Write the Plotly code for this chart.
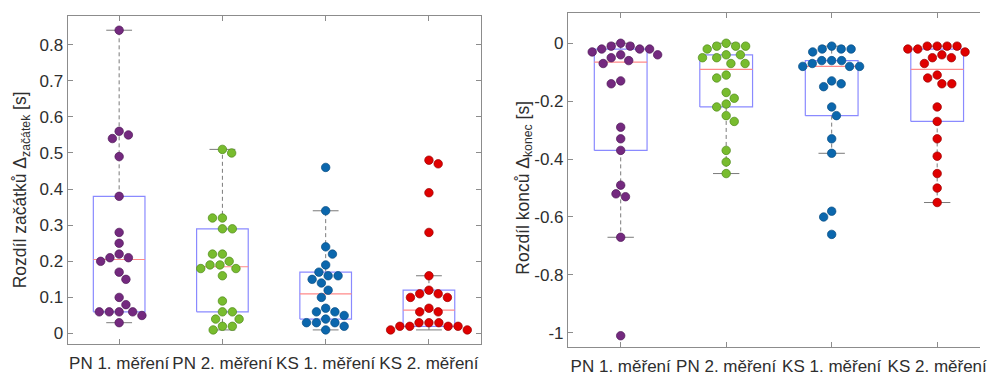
import math
import numpy as np
import plotly.graph_objects as go

# ---------------- data ----------------
categories = ["PN 1. měření", "PN 2. měření", "KS 1. měření", "KS 2. měření"]

start_PN1 = [0.84, 0.55, 0.56, 0.54, 0.49, 0.38, 0.28, 0.25, 0.21, 0.22, 0.21,
             0.20, 0.17, 0.15, 0.10, 0.08, 0.06, 0.06, 0.06, 0.06, 0.05, 0.03]
start_PN2 = [0.50, 0.51, 0.32, 0.32, 0.29, 0.29, 0.22, 0.22, 0.20, 0.19, 0.19,
             0.18, 0.18, 0.16, 0.09, 0.06, 0.06, 0.04, 0.04, 0.02, 0.02, 0.01]
start_KS1 = [0.46, 0.34, 0.24, 0.22, 0.19, 0.17, 0.16, 0.16, 0.14, 0.15, 0.12,
             0.10, 0.07, 0.06, 0.06, 0.05, 0.04, 0.03, 0.03, 0.03, 0.01, 0.02]
start_KS2 = [0.48, 0.47, 0.39, 0.28, 0.16, 0.12, 0.11, 0.11, 0.10, 0.10, 0.07,
             0.06, 0.06, 0.03, 0.03, 0.03, 0.02, 0.02, 0.02, 0.02, 0.01, 0.01]

end_PN1 = [0.00, -0.01, -0.01, -0.02, -0.02, -0.02, -0.03, -0.04, -0.04, -0.05, -0.06,
           -0.07, -0.13, -0.14, -0.29, -0.33, -0.37, -0.49, -0.52, -0.53, -0.67, -1.01]
end_PN2 = [0.00, -0.01, -0.01, -0.01, -0.02, -0.04, -0.04, -0.05, -0.05, -0.07, -0.07,
           -0.11, -0.12, -0.17, -0.19, -0.21, -0.22, -0.25, -0.27, -0.37, -0.41, -0.45]
end_KS1 = [-0.01, -0.02, -0.02, -0.02, -0.03, -0.06, -0.06, -0.06, -0.07, -0.08, -0.08,
           -0.08, -0.13, -0.14, -0.15, -0.22, -0.25, -0.33, -0.38, -0.58, -0.60, -0.66]
end_KS2 = [-0.01, -0.01, -0.01, -0.01, -0.02, -0.02, -0.03, -0.04, -0.05, -0.05, -0.07,
           -0.11, -0.12, -0.14, -0.14, -0.22, -0.27, -0.33, -0.39, -0.45, -0.50, -0.55]

left_ticks = [0, 0.1, 0.2, 0.3, 0.4, 0.5, 0.6, 0.7, 0.8]
left_ticktext = ["0", "0.1", "0.2", "0.3", "0.4", "0.5", "0.6", "0.7", "0.8"]
right_ticks = [0, -0.2, -0.4, -0.6, -0.8, -1]
right_ticktext = ["0", "-0.2", "-0.4", "-0.6", "-0.8", "-1"]

# ---------------- styles ----------------
W, H = 987, 376
fill_colors = ["#74297f", "#78bc2e", "#0b67ad", "#e00000"]
edge_colors = ["#4f1a58", "#4f8a1a", "#084d82", "#9a0000"]
AX = "#8c8c8c"
TXT = "#2e2e2e"
FONT = "Liberation Sans, Arial, sans-serif"

# axis geometry (px)
L_x0, L_x1, L_ytop, L_ybot = 68, 484, 16, 349
R_x0, R_xfull, R_ytop, R_ybot = 572, 997, 13, 352
L_xr = [0.5, 4.5]
L_yr = [-0.03, 0.88]
R_xr = [0.5, 0.5 + 4 * (W - R_x0) / (R_xfull - R_x0)]
R_yr = [-1.05, 0.105]


def stats(v):
    v = np.asarray(v, float)
    q1, med, q3 = np.percentile(v, [25, 50, 75], method="hazen")
    iqr = q3 - q1
    lo = v[v >= q1 - 1.5 * iqr].min()
    hi = v[v <= q3 + 1.5 * iqr].max()
    return q1, med, q3, lo, hi


def swarm(values, pxx, pxy, d=10.0):
    vals = np.asarray(values, float)
    order = np.argsort(-vals, kind="stable")
    placed = []
    offs = np.zeros(len(vals))
    for i in order:
        y = vals[i] * pxy
        cands = [0.0]
        for xp, yp in placed:
            dy = abs(y - yp)
            if dy < d:
                dx = math.sqrt(d * d - dy * dy)
                cands += [xp + dx, xp - dx]
        valid = [c for c in cands
                 if all((c - xp) ** 2 + (y - yp) ** 2 >= d * d - 1e-6 for xp, yp in placed)]
        s = sum(p[0] for p in placed)
        best = min(valid, key=lambda c: (round(abs(c), 6), 0 if np.sign(c) != np.sign(s) else 1))
        placed.append((best, y))
        offs[i] = best
    return offs / pxx


fig = go.Figure()


def add_panel(groups, xa, ya, pxx, pxy):
    bw, cw = 0.25, 0.125
    bx, by, mx, my, wx, wy, cx, cy = [], [], [], [], [], [], [], []
    for k, v in enumerate(groups):
        c = k + 1
        q1, med, q3, lo, hi = stats(v)
        bx += [c - bw, c + bw, c + bw, c - bw, c - bw, None]
        by += [q1, q1, q3, q3, q1, None]
        mx += [c - bw, c + bw, None]
        my += [med, med, None]
        wx += [c, c, None, c, c, None]
        wy += [q3, hi, None, q1, lo, None]
        cx += [c - cw, c + cw, None, c - cw, c + cw, None]
        cy += [hi, hi, None, lo, lo, None]
    common = dict(mode="lines", xaxis=xa, yaxis=ya, showlegend=False, hoverinfo="skip")
    fig.add_trace(go.Scatter(x=wx, y=wy, line=dict(color="#7a7a7a", width=1, dash="4px,3px"), **common))
    fig.add_trace(go.Scatter(x=cx, y=cy, line=dict(color="#7a7a7a", width=1), **common))
    fig.add_trace(go.Scatter(x=bx, y=by, line=dict(color="#8a8aff", width=1.2), **common))
    fig.add_trace(go.Scatter(x=mx, y=my, line=dict(color="#ff8a8a", width=1.2), **common))
    for k, v in enumerate(groups):
        offs = swarm(v, pxx, pxy)
        fig.add_trace(go.Scatter(
            x=(k + 1) + offs, y=v, mode="markers", xaxis=xa, yaxis=ya, showlegend=False,
            marker=dict(size=8.5, color=fill_colors[k], line=dict(color=edge_colors[k], width=0.7)),
            name=categories[k]))


L_pxx = (L_x1 - L_x0) / (L_xr[1] - L_xr[0])
L_pxy = (L_ybot - L_ytop) / (L_yr[1] - L_yr[0])
R_pxx = (W - R_x0) / (R_xr[1] - R_xr[0])
R_pxy = (R_ybot - R_ytop) / (R_yr[1] - R_yr[0])

add_panel([start_PN1, start_PN2, start_KS1, start_KS2], "x", "y", L_pxx, L_pxy)
add_panel([end_PN1, end_PN2, end_KS1, end_KS2], "x2", "y2", R_pxx, R_pxy)

axis_common = dict(showgrid=False, zeroline=False, showline=True, linecolor=AX, linewidth=1,
                   ticks="inside", ticklen=5, tickcolor=AX, tickwidth=1,
                   tickfont=dict(family=FONT, size=17, color=TXT))

fig.update_layout(
    width=W, height=H, margin=dict(l=0, r=0, t=0, b=0),
    paper_bgcolor="white", plot_bgcolor="white",
    xaxis=dict(domain=[L_x0 / W, L_x1 / W], range=L_xr, anchor="y",
               tickvals=[1, 2, 3, 4], ticktext=categories, mirror="ticks",
               ticklabelstandoff=3, ticklabeloverflow="allow", **axis_common),
    yaxis=dict(domain=[(H - L_ybot) / H, (H - L_ytop) / H], range=L_yr, anchor="x",
               tickvals=left_ticks, ticktext=left_ticktext, mirror="ticks", **axis_common),
    xaxis2=dict(domain=[R_x0 / W, 1.0], range=R_xr, anchor="y2",
                tickvals=[1, 2, 3, 4], ticktext=categories, mirror="ticks",
                ticklabelstandoff=3, ticklabeloverflow="allow", **axis_common),
    yaxis2=dict(domain=[(H - R_ybot) / H, (H - R_ytop) / H], range=R_yr, anchor="x2",
                tickvals=right_ticks, ticktext=right_ticktext, mirror=False, **axis_common),
)

fig.add_annotation(text="Rozdíl začátků Δ<sub>začátek</sub> [s]", textangle=-90,
                   x=22 / W, y=1 - 192 / H, xref="paper", yref="paper",
                   xanchor="center", yanchor="middle", showarrow=False,
                   font=dict(family=FONT, size=17.5, color=TXT))
fig.add_annotation(text="Rozdíl konců Δ<sub>konec</sub> [s]", textangle=-90,
                   x=528 / W, y=1 - 190 / H, xref="paper", yref="paper",
                   xanchor="center", yanchor="middle", showarrow=False,
                   font=dict(family=FONT, size=17.5, color=TXT))

fig.write_html("out.html")
